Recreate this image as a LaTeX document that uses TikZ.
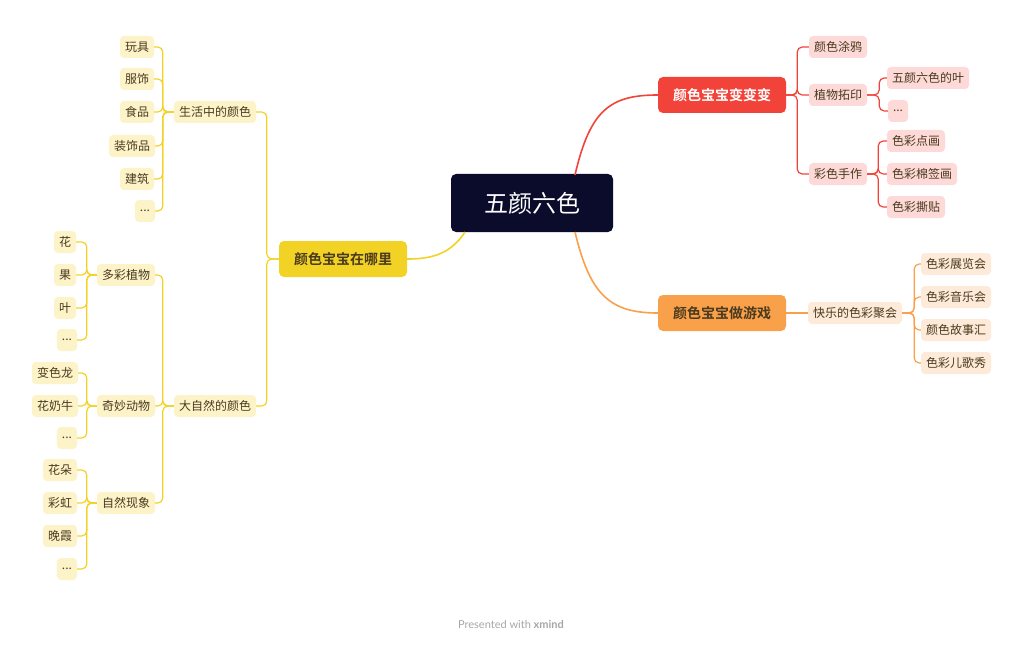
\documentclass[tikz,border=0pt]{standalone}
\usepackage{fontspec}
\newfontfamily\cjk{Noto Sans CJK SC}
\newfontfamily\cjkb{Noto Sans CJK SC Bold}
\definecolor{navy}{HTML}{0B0B2B}
\definecolor{redb}{HTML}{F2433A}
\definecolor{redl}{HTML}{FDDAD7}
\definecolor{orb}{HTML}{F9A04B}
\definecolor{orl}{HTML}{FDEAD8}
\definecolor{yeb}{HTML}{F3D226}
\definecolor{yel}{HTML}{FDF3C9}
\definecolor{txt}{HTML}{4A3A1E}
\begin{document}
\begin{tikzpicture}[x=1pt,y=-1pt,
  leaf/.style={rounded corners=4,inner xsep=5pt,inner ysep=0pt,minimum height=22pt,font=\cjk\fontsize{12}{12}\selectfont,text=txt},
  rl/.style={leaf,fill=redl},
  ol/.style={leaf,fill=orl},
  yl/.style={leaf,fill=yel},
  br/.style={rounded corners=5,inner xsep=15pt,inner ysep=0pt,minimum height=36pt,font=\cjkb\fontsize{14}{14}\selectfont},
  rc/.style={draw=redb,line width=1.2pt,rounded corners=5},
  oc/.style={draw=orb,line width=1.2pt,rounded corners=5},
  yc/.style={draw=yeb,line width=1.2pt,rounded corners=5}]
\useasboundingbox (0,0) rectangle (1024,647);
\node[fill=navy,text=white,rounded corners=5,minimum width=162pt,minimum height=58pt,font=\cjk\fontsize{24}{24}\selectfont] (root) at (532,203) {五颜六色};
\node[br,fill=redb,text=white] (b1) at (722,95) {颜色宝宝变变变};
\node[br,fill=orb,text=txt] (b2) at (722,313) {颜色宝宝做游戏};
\node[br,fill=yeb,text=txt] (b3) at (343,259) {颜色宝宝在哪里};
\draw[redb,line width=1.6pt] (575,175) .. controls (590,110) and (610,95) .. (b1.west);
\draw[orb,line width=1.6pt] (575,232) .. controls (590,295) and (610,313) .. (b2.west);
\draw[yeb,line width=1.6pt] (465,232) .. controls (450,255) and (430,259) .. (b3.east);
% red
\node[rl] (r1) at (838,47) {颜色涂鸦};
\node[rl] (r2) at (838,95) {植物拓印};
\node[rl] (r3) at (838,174) {彩色手作};
\node[rl] (r21) at (928,78) {五颜六色的叶};
\node[rl] (r22) at (898,111) {...};
\node[rl] (r31) at (916,141) {色彩点画};
\node[rl] (r32) at (922,174) {色彩棉签画};
\node[rl] (r33) at (916,207) {色彩撕贴};
\foreach \c in {r1,r2,r3} \draw[rc] (b1.east) -- ++(11,0) |- (\c.west);
\foreach \c in {r21,r22} \draw[rc] (r2.east) -- ++(12,0) |- (\c.west);
\foreach \c in {r31,r32,r33} \draw[rc] (r3.east) -- ++(11,0) |- (\c.west);
% orange
\node[ol] (o1) at (855,313) {快乐的色彩聚会};
\node[ol] (o11) at (956,264) {色彩展览会};
\node[ol] (o12) at (956,297) {色彩音乐会};
\node[ol] (o13) at (956,330) {颜色故事汇};
\node[ol] (o14) at (956,363) {色彩儿歌秀};
\draw[oc] (b2.east) -- (o1.west);
\foreach \c in {o11,o12,o13,o14} \draw[oc] (o1.east) -- ++(12,0) |- (\c.west);
% yellow
\node[yl] (y1) at (215,112) {生活中的颜色};
\node[yl] (y2) at (215,406) {大自然的颜色};
\foreach \c in {y1,y2} \draw[yc] (b3.west) -- ++(-12,0) |- (\c.east);
\node[yl] (a1) at (137,47) {玩具};
\node[yl] (a2) at (137,79) {服饰};
\node[yl] (a3) at (137,112) {食品};
\node[yl] (a4) at (132,146) {装饰品};
\node[yl] (a5) at (137,179) {建筑};
\node[yl] (a6) at (145,211) {...};
\foreach \c in {a1,a2,a3,a4,a5,a6} \draw[yc] (y1.west) -- ++(-11,0) |- (\c.east);
\node[yl] (n1) at (126,275) {多彩植物};
\node[yl] (n2) at (126,406) {奇妙动物};
\node[yl] (n3) at (126,503) {自然现象};
\foreach \c in {n1,n2,n3} \draw[yc] (y2.west) -- ++(-11,0) |- (\c.east);
\node[yl] (p1) at (65,242) {花};
\node[yl] (p2) at (65,275) {果};
\node[yl] (p3) at (65,308) {叶};
\node[yl] (p4) at (67,340) {...};
\foreach \c in {p1,p2,p3,p4} \draw[yc] (n1.west) -- ++(-10,0) |- (\c.east);
\node[yl] (q1) at (55,373) {变色龙};
\node[yl] (q2) at (55,406) {花奶牛};
\node[yl] (q3) at (67,438) {...};
\foreach \c in {q1,q2,q3} \draw[yc] (n2.west) -- ++(-10,0) |- (\c.east);
\node[yl] (s1) at (60,470) {花朵};
\node[yl] (s2) at (60,503) {彩虹};
\node[yl] (s3) at (60,536) {晚霞};
\node[yl] (s4) at (67,569) {...};
\foreach \c in {s1,s2,s3,s4} \draw[yc] (n3.west) -- ++(-10,0) |- (\c.east);
\node[text=black!35,font=\fontspec{Lato}\fontsize{11}{11}\selectfont] (ft) at (511,624) {Presented with \textbf{xmind}};
\end{tikzpicture}
\end{document}
